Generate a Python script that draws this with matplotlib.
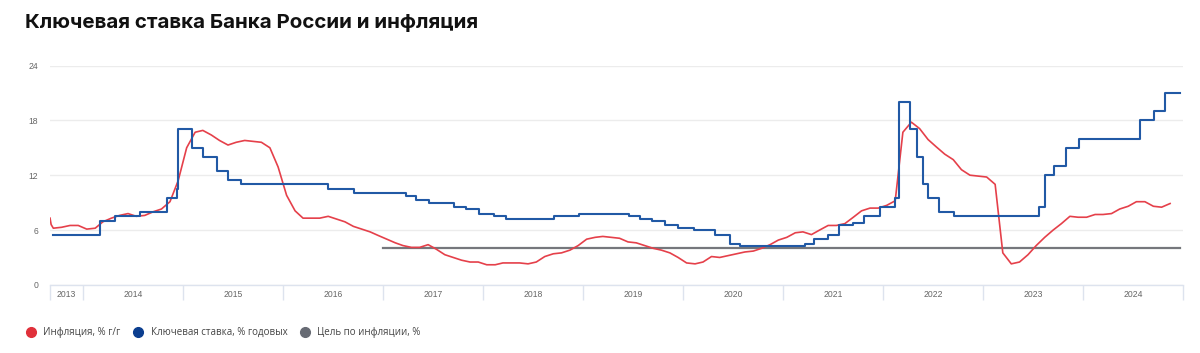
import numpy as np
import pandas as pd
import matplotlib
matplotlib.use("Agg")
import matplotlib.pyplot as plt
from matplotlib.lines import Line2D

# ── data ──────────────────────────────────────────────────────────
rate_dates = [
    "2013-09-13", "2014-03-03", "2014-04-28", "2014-07-28", "2014-11-05",
    "2014-12-12", "2014-12-16", "2015-02-02", "2015-03-16", "2015-05-05",
    "2015-06-16", "2015-08-03", "2016-06-14", "2016-09-19", "2017-03-27",
    "2017-05-02", "2017-06-19", "2017-09-18", "2017-10-30", "2017-12-18",
    "2018-02-12", "2018-03-26", "2018-09-17", "2018-12-17", "2019-06-17",
    "2019-07-29", "2019-09-09", "2019-10-28", "2019-12-16", "2020-02-10",
    "2020-04-27", "2020-06-22", "2020-07-27", "2021-03-22", "2021-04-26",
    "2021-06-15", "2021-07-26", "2021-09-13", "2021-10-25", "2021-12-20",
    "2022-02-14", "2022-02-28", "2022-04-11", "2022-05-04", "2022-05-27",
    "2022-06-14", "2022-07-25", "2022-09-19", "2023-07-24", "2023-08-15",
    "2023-09-18", "2023-10-30", "2023-12-18", "2024-07-29", "2024-09-16",
    "2024-10-28", "2024-12-20",
]
rate_values = [
    5.5, 7.0, 7.5, 8.0, 9.5, 10.5, 17.0, 15.0, 14.0, 12.5,
    11.5, 11.0, 10.5, 10.0, 9.75, 9.25, 9.0, 8.5, 8.25, 7.75,
    7.5, 7.25, 7.5, 7.75, 7.5, 7.25, 7.0, 6.5, 6.25, 6.0,
    5.5, 4.5, 4.25, 4.5, 5.0, 5.5, 6.5, 6.75, 7.5, 8.5,
    9.5, 20.0, 17.0, 14.0, 11.0, 9.5, 8.0, 7.5, 8.5, 12.0,
    13.0, 15.0, 16.0, 18.0, 19.0, 21.0, 21.0,
]

infl_head_dates = ["2013-09-03", "2013-09-07"]
infl_head_values = [7.3, 6.6]
infl_start, infl_end = "2013-09-01", "2024-11-01"
infl_values = [
    6.2, 6.3, 6.5, 6.5,
    6.1, 6.2, 6.9, 7.3, 7.6, 7.8, 7.5, 7.6, 8.0, 8.3, 9.1, 11.4,
    15.0, 16.7, 16.9, 16.4, 15.8, 15.3, 15.6, 15.8, 15.7, 15.6, 15.0, 12.9,
    9.8, 8.1, 7.3, 7.3, 7.3, 7.5, 7.2, 6.9, 6.4, 6.1, 5.8, 5.4,
    5.0, 4.6, 4.3, 4.1, 4.1, 4.4, 3.9, 3.3, 3.0, 2.7, 2.5, 2.5,
    2.2, 2.2, 2.4, 2.4, 2.4, 2.3, 2.5, 3.1, 3.4, 3.5, 3.8, 4.3,
    5.0, 5.2, 5.3, 5.2, 5.1, 4.7, 4.6, 4.3, 4.0, 3.8, 3.5, 3.0,
    2.4, 2.3, 2.5, 3.1, 3.0, 3.2, 3.4, 3.6, 3.7, 4.0, 4.4, 4.9,
    5.2, 5.7, 5.8, 5.5, 6.0, 6.5, 6.5, 6.7, 7.4, 8.1, 8.4, 8.4,
    8.7, 9.2, 16.7, 17.8, 17.1, 15.9, 15.1, 14.3, 13.7, 12.6, 12.0, 11.9,
    11.8, 11.0, 3.5, 2.3, 2.5, 3.3, 4.3, 5.2, 6.0, 6.7, 7.5, 7.4,
    7.4, 7.7, 7.7, 7.8, 8.3, 8.6, 9.1, 9.1, 8.6, 8.5, 8.9,
]

target_dates = ["2017-01-01", "2024-12-20"]
target_values = [4.0, 4.0]

years = list(range(2013, 2025))
y_ticks = [0, 6, 12, 18, 24]

# ── style ─────────────────────────────────────────────────────────
RED = "#e5404a"; BLUE = "#2159a5"; GRAY = "#75777c"
RED_M = "#e0303a"; BLUE_M = "#0b3e8f"; GRAY_M = "#676b74"
SEP = "#dde3ee"; GRID = "#ececec"; TICK = "#666666"

x_left, x_right = pd.Timestamp("2013-09-03"), pd.Timestamp("2025-01-01")

fig = plt.figure(figsize=(12, 3.53), dpi=100)
ax = fig.add_axes([0.0417, 0.193, 0.9441, 0.6214])

infl_dates = pd.to_datetime(infl_head_dates).append(
    pd.date_range(infl_start, infl_end, freq="MS") + pd.Timedelta(days=14))
infl_all = infl_head_values + infl_values

ax.plot(pd.to_datetime(target_dates), target_values, color=GRAY, lw=1.6, zorder=2)
ax.plot(infl_dates, infl_all, color=RED, lw=1.2, zorder=3)
ax.plot(pd.to_datetime(rate_dates), rate_values, color=BLUE, lw=1.5,
        drawstyle="steps-post", zorder=4)

ax.set_xlim(x_left, x_right)
ax.set_ylim(0, 24)

# y axis
ax.set_yticks(y_ticks)
ax.set_yticklabels([str(v) for v in y_ticks], fontsize=6.2, color=TICK,
                   family="Liberation Sans")
ax.tick_params(axis="y", length=0, pad=8.5)
ax.grid(axis="y", color=GRID, lw=1)
ax.set_axisbelow(True)

# x axis: year bands
seps = [x_left] + [pd.Timestamp(f"{y}-01-01") for y in years[1:]] + [x_right]
mids = [seps[i] + (seps[i + 1] - seps[i]) / 2 for i in range(len(seps) - 1)]
ax.set_xticks(seps, minor=True)
ax.set_xticks(mids)
ax.set_xticklabels([str(y) for y in years], fontsize=6.2, color=TICK,
                   family="Liberation Sans")
ax.tick_params(axis="x", which="major", length=0, pad=3.5)
ax.tick_params(axis="x", which="minor", length=11, width=1, color=SEP)

for s in ["top", "right", "left"]:
    ax.spines[s].set_visible(False)
ax.spines["bottom"].set_color(SEP)
ax.spines["bottom"].set_linewidth(1)

fig.text(0.021, 0.936, "Ключевая ставка Банка России и инфляция",
         fontsize=14.8, fontweight="bold", family="Inter", color="#111111",
         va="center", ha="left")

handles = [
    Line2D([], [], marker="o", ls="none", ms=7, color=RED_M),
    Line2D([], [], marker="o", ls="none", ms=7, color=BLUE_M),
    Line2D([], [], marker="o", ls="none", ms=7, color=GRAY_M),
]
labels = ["Инфляция, % г/г", "Ключевая ставка, % годовых", "Цель по инфляции, %"]
fig.legend(handles, labels, loc="center left", bbox_to_anchor=(0.019, 0.057),
           ncol=3, frameon=False, handlelength=0.8, handletextpad=0.9,
           columnspacing=1.4, borderaxespad=0,
           prop={"family": "Open Sans", "size": 7}, labelcolor="#444444")

fig.savefig("out.png", dpi=100)
